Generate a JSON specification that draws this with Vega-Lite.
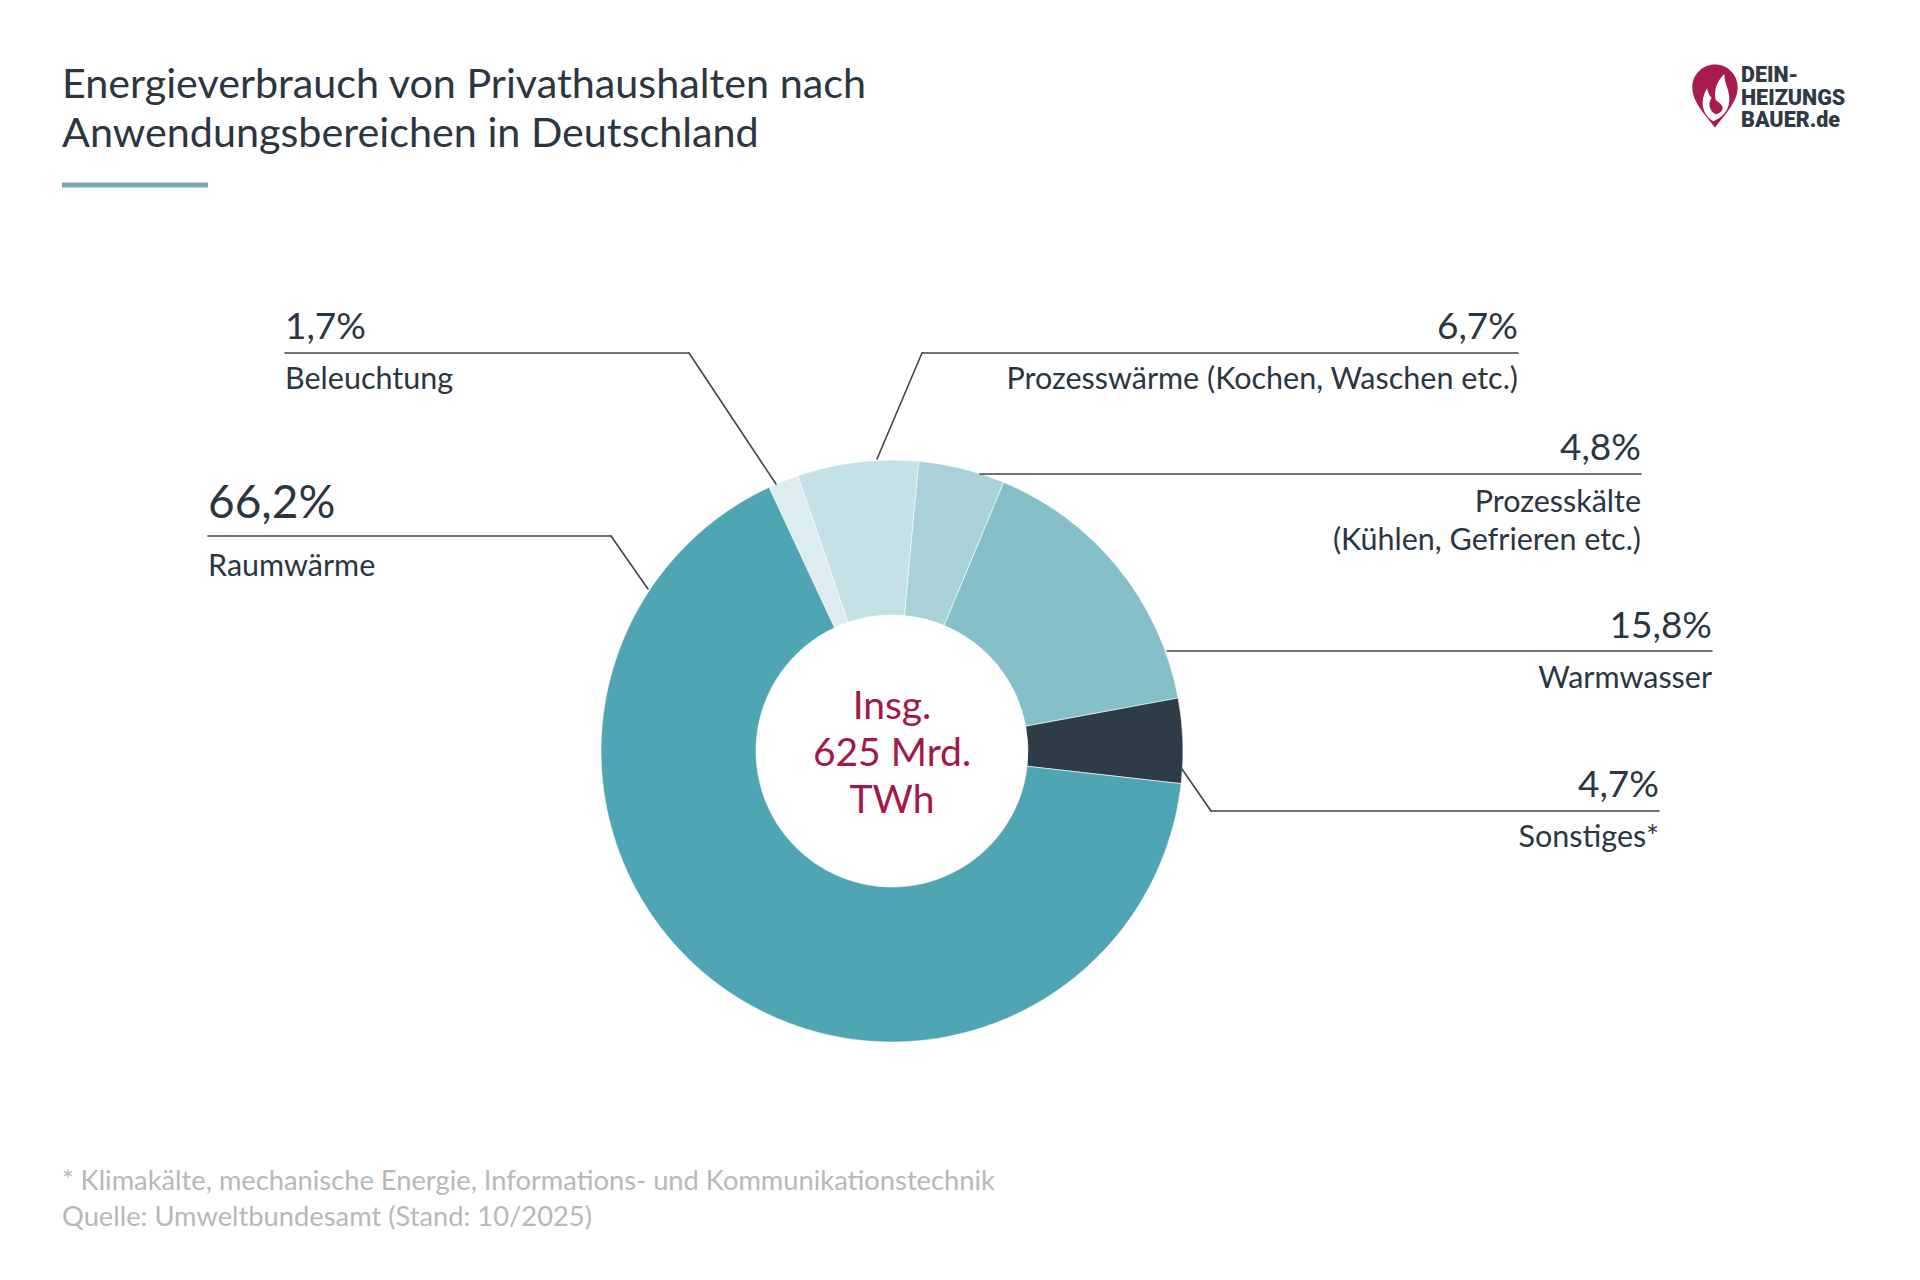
{
  "$schema": "https://vega.github.io/schema/vega-lite/v6.json",
  "width": 1784,
  "height": 1058,
  "autosize": {"type": "none"},
  "padding": {"left": 0, "top": 222, "right": 136, "bottom": 0},
  "background": "white",
  "config": {
    "view": {"stroke": null},
    "font": "Lato",
    "locale": {"number": {"decimal": ",", "thousands": ".", "grouping": [3], "currency": ["", " €"]}}
  },
  "data": {
    "values": [
      {"Rang": 1, "Bereich": "Beleuchtung", "Anteil": 0.017},
      {"Rang": 2, "Bereich": "Prozesswärme (Kochen, Waschen etc.)", "Anteil": 0.067},
      {"Rang": 3, "Bereich": "Prozesskälte\n(Kühlen, Gefrieren etc.)", "Anteil": 0.048},
      {"Rang": 4, "Bereich": "Warmwasser", "Anteil": 0.158},
      {"Rang": 5, "Bereich": "Sonstiges*", "Anteil": 0.047},
      {"Rang": 6, "Bereich": "Raumwärme", "Anteil": 0.662}
    ]
  },
  "resolve": {"scale": {"x": "independent", "y": "independent"}},
  "layer": [
    {
      "mark": {"type": "arc", "outerRadius": 291, "innerRadius": 136, "stroke": "white", "strokeWidth": 0.6},
      "encoding": {
        "theta": {"field": "Anteil", "type": "quantitative", "stack": true, "scale": {"range": [-0.4363, 5.8469]}},
        "order": {"field": "Rang", "type": "quantitative", "sort": "ascending"},
        "color": {
          "field": "Bereich", "type": "nominal", "legend": null,
          "scale": {
            "domain": ["Beleuchtung", "Prozesswärme (Kochen, Waschen etc.)", "Prozesskälte\n(Kühlen, Gefrieren etc.)", "Warmwasser", "Sonstiges*", "Raumwärme"],
            "range": ["#dcecef", "#c4e1e5", "#a9d2d8", "#85c0c8", "#2e3c48", "#4fa5b3"]
          }
        }
      }
    },
    {
      "data": {"values": [{}]},
      "mark": {"type": "text", "text": ["Insg.", "625 Mrd.", "TWh"], "fontSize": 39, "lineHeight": 47, "color": "#a3174b", "align": "center", "baseline": "middle", "dy": -44},
      "encoding": {}
    },
    {
      "transform": [{"filter": "datum.Rang == 1 || datum.Rang == 6"}],
      "mark": {"type": "text", "align": "left", "baseline": "alphabetic", "color": "#2b3641"},
      "encoding": {
        "x": {"field": "Rang", "type": "quantitative", "axis": null, "scale": {"domain": [1, 6], "range": [285, 208], "nice": false, "zero": false}},
        "y": {"field": "Rang", "type": "quantitative", "axis": null, "scale": {"domain": [1, 6], "range": [117, 296], "nice": false, "zero": false}},
        "text": {"field": "Anteil", "type": "quantitative", "format": ".1%"},
        "size": {"condition": {"test": "datum.Rang == 6", "value": 46}, "value": 37}
      }
    },
    {
      "transform": [{"filter": "datum.Rang >= 2 && datum.Rang <= 5"}],
      "mark": {"type": "text", "align": "right", "baseline": "alphabetic", "color": "#2b3641", "fontSize": 37},
      "encoding": {
        "x": {"field": "Rang", "type": "quantitative", "axis": null, "scale": {"domain": [2, 3, 4, 5], "range": [1518, 1641, 1712, 1659], "nice": false, "zero": false}},
        "y": {"field": "Rang", "type": "quantitative", "axis": null, "scale": {"domain": [2, 3, 4, 5], "range": [117, 238, 416, 575], "nice": false, "zero": false}},
        "text": {"field": "Anteil", "type": "quantitative", "format": ".1%"}
      }
    },
    {
      "transform": [{"filter": "datum.Rang == 1 || datum.Rang == 6"}],
      "mark": {"type": "text", "align": "left", "baseline": "alphabetic", "color": "#2b3641", "fontSize": 30.5},
      "encoding": {
        "x": {"field": "Rang", "type": "quantitative", "axis": null, "scale": {"domain": [1, 6], "range": [285, 208], "nice": false, "zero": false}},
        "y": {"field": "Rang", "type": "quantitative", "axis": null, "scale": {"domain": [1, 6], "range": [167, 354], "nice": false, "zero": false}},
        "text": {"field": "Bereich", "type": "nominal"}
      }
    },
    {
      "transform": [{"filter": "datum.Rang >= 2 && datum.Rang <= 5"}],
      "mark": {"type": "text", "align": "right", "baseline": "alphabetic", "color": "#2b3641", "fontSize": 30.5, "lineBreak": "\n", "lineHeight": 38},
      "encoding": {
        "x": {"field": "Rang", "type": "quantitative", "axis": null, "scale": {"domain": [2, 3, 4, 5], "range": [1518, 1641, 1712, 1659], "nice": false, "zero": false}},
        "y": {"field": "Rang", "type": "quantitative", "axis": null, "scale": {"domain": [2, 3, 4, 5], "range": [167, 290, 466, 625], "nice": false, "zero": false}},
        "text": {"field": "Bereich", "type": "nominal"}
      }
    },
    {
      "transform": [{"calculate": "datum.Rang + 10", "as": "Ende"}],
      "mark": {"type": "rule", "color": "#3b4651", "strokeWidth": 1.6, "strokeCap": "round"},
      "encoding": {
        "x": {"field": "Rang", "type": "quantitative", "axis": null, "scale": {"domain": [1, 2, 3, 4, 5, 6, 11, 12, 13, 14, 15, 16], "range": [285, 922, 980, 1167, 1211, 208, 689, 1518, 1641, 1712, 1659, 611], "nice": false, "zero": false}},
        "x2": {"field": "Ende"},
        "y": {"field": "Rang", "type": "quantitative", "axis": null, "scale": {"domain": [1, 2, 3, 4, 5, 6], "range": [131, 131, 252, 429, 589, 314], "nice": false, "zero": false}}
      }
    },
    {
      "transform": [{"filter": "datum.Rang == 1 || datum.Rang == 2 || datum.Rang == 5 || datum.Rang == 6"}, {"calculate": "datum.Rang + 10", "as": "Ende"}],
      "mark": {"type": "rule", "color": "#3b4651", "strokeWidth": 1.6, "strokeCap": "round"},
      "encoding": {
        "x": {"field": "Rang", "type": "quantitative", "axis": null, "scale": {"domain": [1, 2, 5, 6, 11, 12, 15, 16], "range": [689, 922, 1211, 611, 776, 877, 1182, 648], "nice": false, "zero": false}},
        "x2": {"field": "Ende"},
        "y": {"field": "Rang", "type": "quantitative", "axis": null, "scale": {"domain": [1, 2, 5, 6, 11, 12, 15, 16], "range": [131, 131, 589, 314, 262, 237, 547, 367], "nice": false, "zero": false}},
        "y2": {"field": "Ende"}
      }
    },
    {
      "data": {"values": [{}]},
      "layer": [
        {
          "mark": {"type": "text", "text": ["Energieverbrauch von Privathaushalten nach", "Anwendungsbereichen in Deutschland"], "fontSize": 41.3, "lineHeight": 49, "color": "#2b3641", "align": "left", "baseline": "alphabetic"},
          "encoding": {
            "x": {"datum": 62, "type": "quantitative", "axis": null, "scale": {"domain": [0, 1920], "range": [0, 1920], "nice": false, "zero": false}},
            "y": {"datum": 98, "type": "quantitative", "axis": null, "scale": {"domain": [0, 1280], "range": [-222, 1058], "nice": false, "zero": false}}
          }
        },
        {
          "mark": {"type": "rule", "color": "#75a7b0", "strokeWidth": 5},
          "encoding": {
            "x": {"datum": 62, "type": "quantitative"},
            "x2": {"datum": 208},
            "y": {"datum": 185, "type": "quantitative"}
          }
        },
        {
          "mark": {"type": "text", "text": ["* Klimakälte, mechanische Energie, Informations- und Kommunikationstechnik", "Quelle: Umweltbundesamt (Stand: 10/2025)"], "fontSize": 27.3, "lineHeight": 36, "color": "#b8b8b8", "align": "left", "baseline": "alphabetic"},
          "encoding": {
            "x": {"datum": 62, "type": "quantitative"},
            "y": {"datum": 1190, "type": "quantitative"}
          }
        },
        {
          "mark": {"type": "point", "shape": "M0,1 C-0.3,0.6 -0.72,0.2 -0.72,-0.28 A0.72,0.72 0 1 1 0.72,-0.28 C0.72,0.2 0.3,0.6 0,1 Z", "size": 3969, "filled": true, "color": "#a91b4e", "opacity": 1},
          "encoding": {
            "x": {"datum": 1715, "type": "quantitative"},
            "y": {"datum": 96, "type": "quantitative"}
          }
        },
        {
          "mark": {"type": "point", "shape": "M-0.05,0.8 C-0.4,0.6 -0.5,0.15 -0.25,-0.25 C-0.2,0 -0.1,0.1 0.02,0.12 C-0.05,-0.2 0.08,-0.5 0.3,-0.7 C0.28,-0.4 0.5,-0.15 0.45,0.2 C0.42,0.5 0.2,0.7 -0.05,0.8 Z", "size": 3969, "filled": true, "color": "white", "opacity": 1},
          "encoding": {
            "x": {"datum": 1715, "type": "quantitative"},
            "y": {"datum": 96, "type": "quantitative"}
          }
        },
        {
          "mark": {"type": "point", "shape": "M0.02,0.58 C-0.2,0.45 -0.24,0.2 -0.08,0.02 C0.05,0.16 0.18,0.22 0.24,0.34 C0.26,0.48 0.14,0.56 0.02,0.58 Z", "size": 3969, "filled": true, "color": "#a91b4e", "opacity": 1},
          "encoding": {
            "x": {"datum": 1715, "type": "quantitative"},
            "y": {"datum": 96, "type": "quantitative"}
          }
        },
        {
          "mark": {"type": "text", "text": ["DEIN-", "HEIZUNGS", "BAUER.de"], "font": "Roboto", "fontWeight": 900, "fontSize": 21.5, "lineHeight": 22.5, "color": "#2f3a45", "align": "left", "baseline": "alphabetic"},
          "encoding": {
            "x": {"datum": 1741, "type": "quantitative"},
            "y": {"datum": 82, "type": "quantitative"}
          }
        }
      ]
    }
  ]
}
